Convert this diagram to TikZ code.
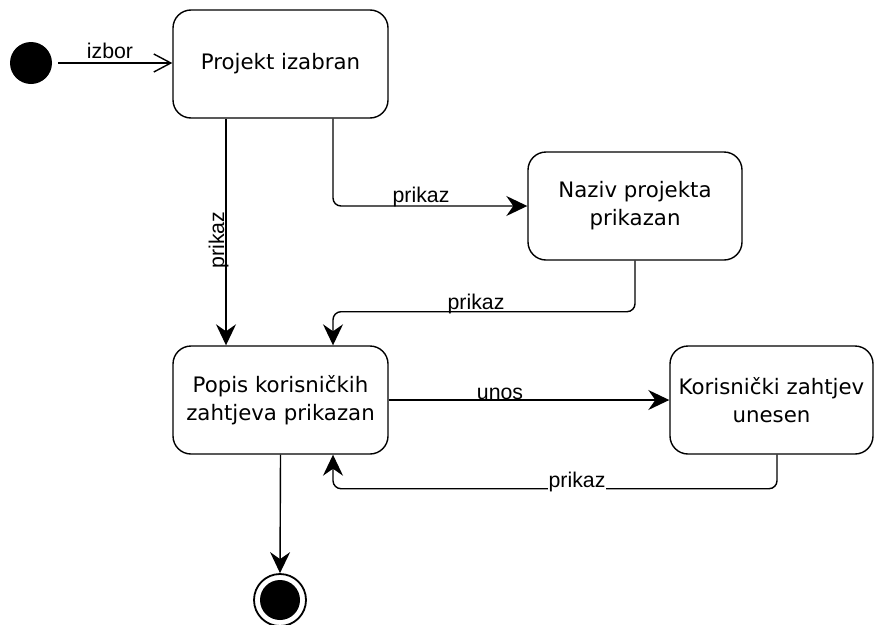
\documentclass[tikz,border=0pt]{standalone}
\usepackage{fontspec}
\setmainfont{DejaVu Sans}
\newfontfamily\lblfont{Liberation Sans}
\usetikzlibrary{arrows.meta, positioning}

\begin{document}
\begin{tikzpicture}[
      x=1pt, y=-1pt,
      state/.style={draw, line width=1.4pt, rounded corners=18pt, minimum width=215pt, minimum height=108pt, align=center, font=\fontsize{21.3}{28}\selectfont, inner sep=2pt},
      lbl/.style={font=\lblfont\fontsize{21.3}{24}\selectfont, anchor=base, inner sep=1pt},
      flow/.style={line width=1.4pt, rounded corners=8pt, -{Stealth[length=21pt, width=20pt, inset=7pt]}},
      initial/.style={circle, fill=black, minimum size=42pt, inner sep=0pt},
      final/.style={circle, draw, line width=1.8pt, minimum size=52pt, inner sep=0pt, path picture={\fill (path picture bounding box.center) circle (20pt);}}
    ]
      \useasboundingbox (0,0) rectangle (874,624);

      % States
      \node[initial] (init) at (31,63) {};
      \node[state] (proj) at (280.5,64) {Projekt izabran};
      \node[state, minimum width=214pt] (naz) at (635,206) {Naziv projekta\\prikazan};
      \node[state] (pop) at (280.5,400) {Popis korisničkih\\zahtjeva prikazan};
      \node[state, minimum width=203pt] (kor) at (771.5,400) {Korisnički zahtjev\\unesen};
      \node[final] (fin) at (280,600) {};

      % Transitions
      \draw[line width=1.4pt, shorten <=6pt, -{Straight Barb[length=17pt, width=18pt, line width=1.4pt]}] (init) -- (proj.west |- init);
      \draw[flow] (proj.south -| 226,0) -- (pop.north -| 226,0);
      \draw[flow] (proj.south -| 333,0) |- (naz.west);
      \draw[flow] (naz.south) -- ++(0,51) -| (pop.north -| 333,0);
      \draw[flow] (pop.east) -- (kor.west);
      \draw[flow] (kor.south -| 777,0) -- ++(0,34) -| (pop.south -| 333,0);
      \draw[flow] (pop.south) -- (fin.north);

      % Labels
      \node[lbl] (lizbor) at (110,58) {izbor};
      \node[lbl, rotate=90] (lprikaza) at (224,240) {prikaz};
      \node[lbl] (lprikazb) at (421,202) {prikaz};
      \node[lbl] (lprikazc) at (476,309) {prikaz};
      \node[lbl] (lunos) at (500,399) {unos};
      \node[lbl, fill=white] (lprikazd) at (577,487) {prikaz};
    \end{tikzpicture}
\end{document}
